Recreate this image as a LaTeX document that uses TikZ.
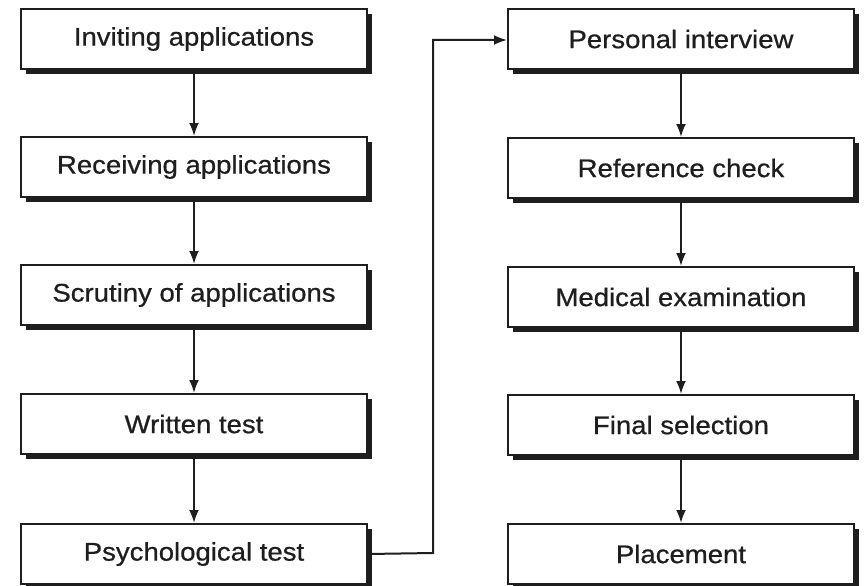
\documentclass[tikz,border=0pt]{standalone}
\usepackage{fontspec}
\setmainfont{Liberation Sans}[FakeBold=1.2]
\newfontfamily\boxfont{Liberation Sans}[FakeBold=0.6]
\usetikzlibrary{arrows.meta,shadows}
\definecolor{ink}{HTML}{1E1E1E}
\tikzset{
  stepbox/.style={draw=ink, line width=2pt, fill=white, anchor=north west,
    minimum width=346pt, minimum height=60pt, inner sep=0pt, text=ink,
    font=\boxfont\fontsize{25.5}{30}\selectfont,
    drop shadow={shadow xshift=5pt, shadow yshift=-5pt, fill=ink, opacity=1}},
  flow/.style={draw=ink, line width=2pt, -{Latex[length=13pt,width=10pt]}}
}
\newcommand{\wtxt}[1]{\scalebox{1.08}[1]{#1}}
\begin{document}
\begin{tikzpicture}[x=1pt,y=-1pt]
\useasboundingbox (0,0) rectangle (865,586);
\node[stepbox] (a1) at (20,8)   {\wtxt{Inviting applications}};
\node[stepbox] (a2) at (20,136) {\wtxt{Receiving applications}};
\node[stepbox] (a3) at (20,264) {\wtxt{Scrutiny of applications}};
\node[stepbox] (a4) at (20,393) {\wtxt{Written test}};
\node[stepbox] (a5) at (20,523) {\wtxt{Psychological test}};
\node[stepbox] (b1) at (507,8)   {\wtxt{Personal interview}};
\node[stepbox] (b2) at (507,137) {\wtxt{Reference check}};
\node[stepbox] (b3) at (507,266) {\wtxt{Medical examination}};
\node[stepbox] (b4) at (507,394) {\wtxt{Final selection}};
\node[stepbox] (b5) at (507,523) {\wtxt{Placement}};
\draw[flow] (a1) -- (a2);
\draw[flow] (a2) -- (a3);
\draw[flow] (a3) -- (a4);
\draw[flow] (a4) -- (a5);
\draw[flow] (b1) -- (b2);
\draw[flow] (b2) -- (b3);
\draw[flow] (b3) -- (b4);
\draw[flow] (b4) -- (b5);
\coordinate (turnA) at (433,553);
\coordinate (turnB) at (433,40);
\draw[flow] (a5.east) -- (turnA) -- (turnB) -- (b1.west |- turnB);
\end{tikzpicture}
\end{document}
